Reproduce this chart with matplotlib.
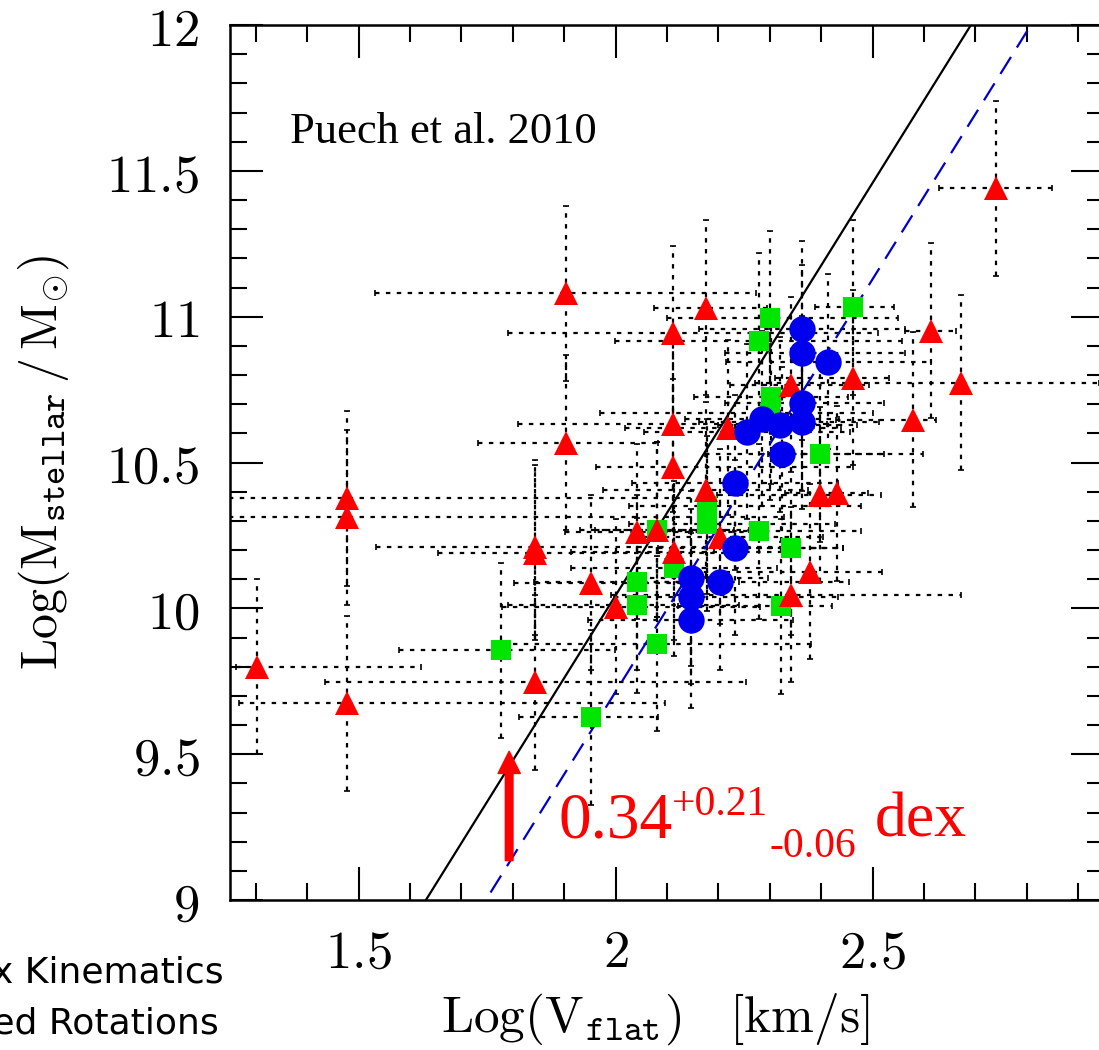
import numpy as np
import matplotlib.pyplot as plt
from matplotlib.ticker import MultipleLocator, FuncFormatter

plt.rcParams['mathtext.fontset'] = 'cm'

# red triangles: complex kinematics
red_logv = [1.302, 1.477, 1.477, 1.477, 1.844, 1.844, 1.844, 1.903, 1.903, 1.953,
            2.000, 2.041, 2.080, 2.111, 2.111, 2.111, 2.113, 2.175, 2.175, 2.204,
            2.218, 2.342, 2.461, 2.397, 2.430, 2.379, 2.342, 2.739, 2.613, 2.671, 2.578]
red_logm = [9.80, 10.378, 10.313, 9.675, 10.21, 10.19, 9.747, 11.08, 10.567, 10.087,
            10.005, 10.262, 10.269, 10.944, 10.632, 10.485, 10.193, 11.03, 10.406, 10.245,
            10.62, 10.766, 10.79, 10.389, 10.395, 10.125, 10.046, 11.441, 10.951, 10.773, 10.646]
red_xlo = [0.04, 0.25, 0.25, 0.21, 0.31, 0.19, 0.41, 0.37, 0.17, 0.15,
           0.22, 0.14, 0.12, 0.32, 0.30, 0.15, 0.20, 0.10, 0.20, 0.15,
           0.20, 0.12, 0.15, 0.20, 0.10, 0.25, 0.35, 0.11, 0.05, 0.40, 0.15]
red_xhi = [0.32, 0.70, 0.85, 0.62, 0.50, 0.40, 0.41, 0.37, 0.18, 0.20,
           0.28, 0.25, 0.18, 0.40, 0.30, 0.35, 0.22, 0.12, 0.20, 0.20,
           0.22, 0.15, 0.07, 0.12, 0.06, 0.14, 0.33, 0.11, 0.05, 0.27, 0.045]

# green squares: perturbed rotations
green_logv = [1.778, 1.953, 2.041, 2.041, 2.080, 2.080, 2.113, 2.177, 2.177,
              2.278, 2.342, 2.321, 2.397, 2.302, 2.278, 2.300, 2.461, 2.300]
green_logm = [9.857, 9.627, 10.09, 10.01, 10.269, 9.878, 10.138, 10.35, 10.29,
              10.265, 10.207, 10.008, 10.529, 10.725, 10.917, 10.995, 11.033, 10.67]
green_xlo = [0.20, 0.14, 0.20, 0.25, 0.15, 0.30, 0.20, 0.15, 0.15,
             0.20, 0.15, 0.20, 0.10, 0.15, 0.28, 0.20, 0.074, 0.33]
green_xhi = [0.22, 0.13, 0.20, 0.20, 0.15, 0.30, 0.20, 0.30, 0.25,
             0.20, 0.10, 0.10, 0.20, 0.15, 0.28, 0.25, 0.08, 0.20]

# blue circles: rotating disks
blue_logv = [2.146, 2.146, 2.146, 2.204, 2.232, 2.232, 2.323, 2.255,
             2.285, 2.320, 2.362, 2.362, 2.362, 2.362, 2.414]
blue_logm = [10.104, 10.04, 9.96, 10.09, 10.207, 10.43, 10.529, 10.605,
             10.65, 10.63, 10.64, 10.704, 10.876, 10.958, 10.845]
blue_xlo = [0.10, 0.15, 0.20, 0.15, 0.15, 0.20, 0.15, 0.20,
            0.15, 0.12, 0.20, 0.15, 0.15, 0.20, 0.20]
blue_xhi = [0.15, 0.286, 0.20, 0.25, 0.21, 0.20, 0.20, 0.20,
            0.15, 0.15, 0.15, 0.16, 0.20, 0.20, 0.20]

mass_err = 0.3

# Tully-Fisher relations: local (solid) and z~0.6 (dashed)
tf_slope = 2.83
tf_zero_local = 4.384
tf_zero_distant = 4.054
tf_logv = np.array([1.25, 2.95])

fig = plt.figure(figsize=(10.99, 10.5), dpi=100)
ax = fig.add_axes([230 / 1099, 150 / 1050, 874 / 1099, 875 / 1050])

ax.plot(tf_logv, tf_slope * tf_logv + tf_zero_local, color='black', lw=1.6, zorder=2)
ax.plot(tf_logv, tf_slope * tf_logv + tf_zero_distant, color='#0000cc', lw=1.6,
        dashes=(9, 5), zorder=2)


def draw_sample(xs, ys, xlo, xhi, marker, color, ms, z):
    eb = ax.errorbar(xs, ys, xerr=[xlo, xhi], yerr=mass_err, fmt='none',
                     ecolor='black', elinewidth=1.6, capsize=2, capthick=1.2, zorder=1)
    for col in eb.lines[2]:
        col.set_linestyle((0, (2, 2.9)))
    ax.plot(xs, ys, linestyle='none', marker=marker, color=color, ms=ms,
            markeredgewidth=0, zorder=z)


draw_sample(green_logv, green_logm, green_xlo, green_xhi, 's', '#00e600', 14, 3)
draw_sample(red_logv, red_logm, red_xlo, red_xhi, '^', '#ff0000', 17.5, 4)
draw_sample(blue_logv, blue_logm, blue_xlo, blue_xhi, 'o', '#0000ee', 19, 5)

ax.set_xlim(1.25, 2.95)
ax.set_ylim(9, 12)

ax.xaxis.set_major_locator(MultipleLocator(0.5))
ax.xaxis.set_minor_locator(MultipleLocator(0.1))
ax.yaxis.set_major_locator(MultipleLocator(0.5))
ax.yaxis.set_minor_locator(MultipleLocator(0.1))
fmt = FuncFormatter(lambda v, p: f'${v:g}$')
ax.xaxis.set_major_formatter(fmt)
ax.yaxis.set_major_formatter(fmt)
ax.tick_params(which='both', direction='in', top=True, right=True, width=1.5, labelsize=38)
ax.tick_params(which='major', length=24)
ax.tick_params(which='minor', length=12)
ax.tick_params(axis='x', pad=19)
ax.tick_params(axis='y', pad=22)
for s in ax.spines.values():
    s.set_linewidth(1.8)

ax.text(-0.213, 0.5, r'$\mathrm{Log(M_{\mathtt{stellar}}\,/\,M_{\odot})}$', transform=ax.transAxes,
        rotation=90, ha='center', va='center', fontsize=36)
ax.text(0.487, -0.151, r'$\mathrm{Log(V_{\mathtt{flat}})\ \ \ [km/s]}$', transform=ax.transAxes,
        ha='center', va='baseline', fontsize=37)

ax.text(0.0686, 0.865, 'Puech et al. 2010', transform=ax.transAxes,
        fontsize=32, family='Liberation Serif', va='baseline')

# offset between the two relations
ax.annotate('', xy=(1.793, 9.51), xytext=(1.793, 9.135),
            arrowprops=dict(facecolor='red', edgecolor='red', width=5.5,
                            headwidth=16, headlength=16, shrink=0))
red_txt = dict(transform=ax.transAxes, color='red', family='Liberation Serif', va='baseline')
ax.text(0.3764, 0.072, '0.34', fontsize=47, **red_txt)
ax.text(0.5057, 0.0971, '+0.21', fontsize=30, **red_txt)
ax.text(0.6178, 0.0491, '-0.06', fontsize=30, **red_txt)
ax.text(0.738, 0.0731, 'dex', fontsize=46, **red_txt)

fig.text(224 / 1099, 1 - 983 / 1050, 'Complex Kinematics', ha='right', va='baseline',
         fontsize=26, family='DejaVu Sans')
fig.text(219 / 1099, 1 - 1033 / 1050, 'Perturbed Rotations', ha='right', va='baseline',
         fontsize=26, family='DejaVu Sans')

fig.savefig('out.png', dpi=100)
